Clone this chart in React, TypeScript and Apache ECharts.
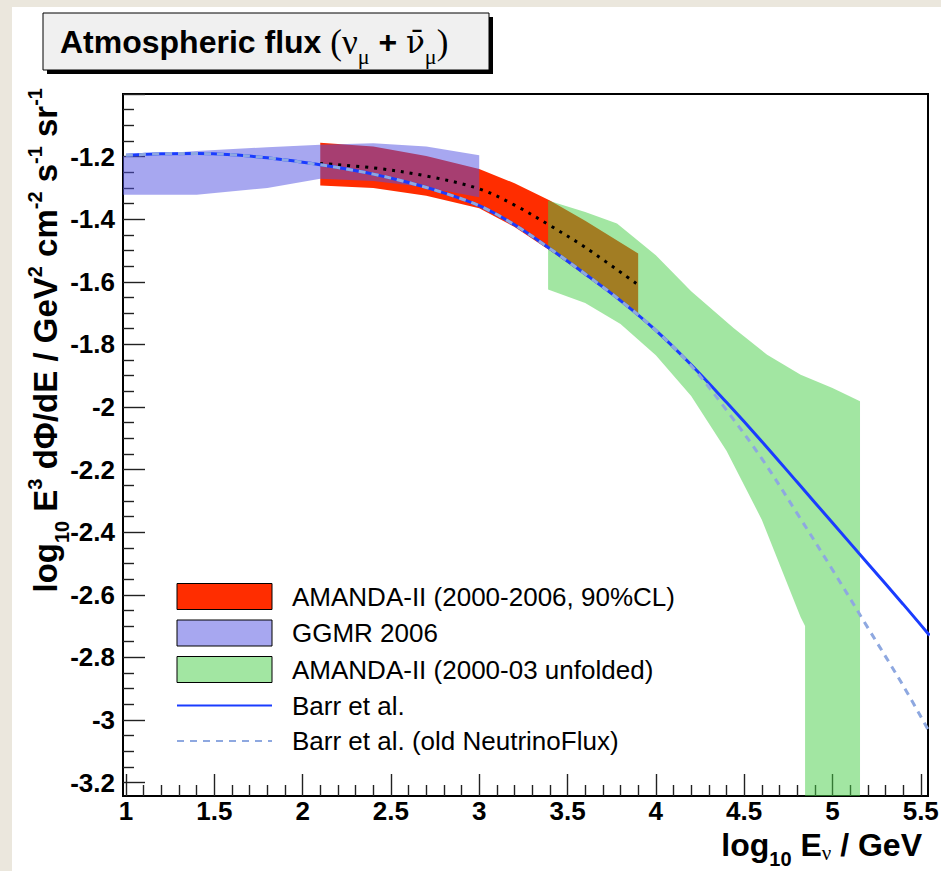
import React, { useEffect, useRef } from 'react';
import * as echarts from 'echarts';

const FONT = '"Liberation Sans", Arial, Helvetica, sans-serif';
const SERIF = '"Liberation Serif", "DejaVu Serif", serif';

const W = 941;
const H = 871;

// axis ranges (frame) and tick layout
const X_RANGE = [0.983, 5.541];
const Y_RANGE = [-3.243, -1.0];
const X_TICKS = { min: 1, max: 5.5, step: 0.5, minor: 5 };
const Y_TICKS = { min: -3.2, max: -1.0, step: 0.2, minor: 4 };

// Barr et al. (solid)
const barrX = [1.0, 1.2, 1.4, 1.6, 1.8, 2.0, 2.2, 2.4, 2.6, 2.8, 3.0, 3.2, 3.4, 3.6, 3.8, 4.0, 4.2, 4.4, 4.6, 4.8, 5.0, 5.2, 5.4, 5.55];
const barrY = [-1.196, -1.191, -1.19, -1.194, -1.204, -1.218, -1.235, -1.256, -1.283, -1.316, -1.357, -1.418, -1.494, -1.575, -1.66, -1.755, -1.865, -1.985, -2.11, -2.24, -2.37, -2.5, -2.63, -2.73];

// Barr et al. (old NeutrinoFlux, dashed)
const oldX = [1.0, 1.2, 1.4, 1.6, 1.8, 2.0, 2.2, 2.4, 2.6, 2.8, 3.0, 3.2, 3.4, 3.6, 3.8, 4.0, 4.2, 4.4, 4.6, 4.8, 5.0, 5.2, 5.4, 5.55];
const oldY = [-1.196, -1.191, -1.19, -1.194, -1.204, -1.218, -1.235, -1.256, -1.283, -1.316, -1.357, -1.418, -1.494, -1.575, -1.66, -1.755, -1.868, -2.01, -2.165, -2.34, -2.52, -2.705, -2.89, -3.04];

// AMANDA-II (2000-2006, 90%CL) band
const redX = [2.1, 2.4, 2.7, 3.0, 3.2, 3.4, 3.6, 3.9];
const redHi = [-1.156, -1.168, -1.198, -1.24, -1.285, -1.34, -1.405, -1.51];
const redLo = [-1.292, -1.3, -1.325, -1.365, -1.425, -1.5, -1.58, -1.705];

// AMANDA-II best fit (dotted)
const fitX = [2.1, 2.4, 2.7, 3.0, 3.2, 3.4, 3.6, 3.9];
const fitY = [-1.222, -1.236, -1.262, -1.303, -1.355, -1.42, -1.49, -1.61];

// GGMR 2006 band
const ggX = [0.98, 1.4, 1.8, 2.1, 2.4, 2.7, 3.0];
const ggHi = [-1.199, -1.182, -1.17, -1.162, -1.157, -1.168, -1.196];
const ggLo = [-1.322, -1.322, -1.3, -1.271, -1.278, -1.298, -1.33];

// AMANDA-II (2000-03 unfolded) band
const grHiX = [3.39, 3.6, 3.78, 4.0, 4.2, 4.44, 4.63, 4.82, 5.0, 5.156];
const grHi = [-1.34, -1.377, -1.414, -1.515, -1.63, -1.748, -1.833, -1.897, -1.939, -1.982];
const grLoX = [3.39, 3.6, 3.8, 4.0, 4.2, 4.4, 4.6, 4.82, 4.845, 4.845, 5.156];
const grLo = [-1.625, -1.668, -1.735, -1.835, -1.965, -2.14, -2.36, -2.672, -2.7, -3.3, -3.3];

const NAMES = {
  red: 'AMANDA-II (2000-2006, 90%CL)',
  gg: 'GGMR 2006',
  gr: 'AMANDA-II (2000-03 unfolded)',
  barr: 'Barr et al.',
  old: 'Barr et al. (old NeutrinoFlux)',
  fit: 'AMANDA-II best fit',
};

const COLORS = {
  red: '#ff2d00',
  gg: 'rgba(80,80,225,0.5)',
  gr: 'rgba(70,205,70,0.5)',
  barr: '#1a3cff',
  old: '#8ea8e0',
  fit: '#000000',
};

const FRAME = { left: 123, top: 94, right: 13, bottom: 75 };

function band(name: string, xsHi: number[], hi: number[], xsLo: number[], lo: number[], color: string, z: number) {
  return {
    type: 'custom',
    name,
    xAxisIndex: 0,
    yAxisIndex: 0,
    z,
    silent: true,
    clip: true,
    itemStyle: { color },
    data: [[xsHi[0], hi[0]]],
    renderItem: (params: any, api: any) => {
      const cs = params.coordSys;
      const pt = (x: number, y: number) => {
        const p = api.coord([x, y]);
        return [
          Math.min(Math.max(p[0], cs.x), cs.x + cs.width),
          Math.min(Math.max(p[1], cs.y), cs.y + cs.height),
        ];
      };
      const pts: number[][] = [];
      for (let i = 0; i < xsHi.length; i++) pts.push(pt(xsHi[i], hi[i]));
      for (let i = xsLo.length - 1; i >= 0; i--) pts.push(pt(xsLo[i], lo[i]));
      return { type: 'polygon', shape: { points: pts }, style: { fill: color } };
    },
  };
}

function line(name: string, xs: number[], ys: number[], color: string, width: number, type: any, z: number) {
  return {
    type: 'line',
    name,
    xAxisIndex: 0,
    yAxisIndex: 0,
    z,
    data: xs.map((x, i) => [x, ys[i]]),
    smooth: 0.35,
    symbol: 'none',
    silent: true,
    lineStyle: { color, width, type },
  };
}

export default function App() {
  const ref = useRef<HTMLDivElement>(null);

  useEffect(() => {
    document.body.style.margin = '0';
    const chart = echarts.init(ref.current!, null, { renderer: 'svg' });

    const fw = W - FRAME.left - FRAME.right;
    const fh = H - FRAME.top - FRAME.bottom;
    const px = (x: number) => FRAME.left + ((x - X_RANGE[0]) / (X_RANGE[1] - X_RANGE[0])) * fw;
    const py = (y: number) => FRAME.top + ((Y_RANGE[1] - y) / (Y_RANGE[1] - Y_RANGE[0])) * fh;

    const gridB = {
      left: px(X_TICKS.min),
      right: W - px(X_TICKS.max),
      top: py(Y_TICKS.max),
      bottom: H - py(Y_TICKS.min),
    };

    const tickLine = { color: '#222', width: 1.4 };
    const tickLabel = { fontFamily: FONT, fontWeight: 'bold', fontSize: 26, color: '#000' };

    const main = { fontFamily: FONT, fontWeight: 'bold', fontSize: 33, color: '#000' };
    const sub = { fontFamily: FONT, fontWeight: 'bold', fontSize: 20, color: '#000', padding: [34, 0, 0, 0] };
    const sup = { fontFamily: FONT, fontWeight: 'bold', fontSize: 20, color: '#000', padding: [0, 0, 20, 0] };

    const xMain = { fontFamily: FONT, fontWeight: 'bold', fontSize: 32, color: '#000' };
    const xSub = { fontFamily: FONT, fontWeight: 'bold', fontSize: 20, color: '#000', padding: [28, 0, 0, 0] };
    const nuSub = { fontFamily: SERIF, fontSize: 21, color: '#000', padding: [16, 0, 0, 0] };

    const lineLegendStyle = { color: 'rgba(0,0,0,0)', borderWidth: 0, opacity: 0 };

    const option: any = {
      animation: false,
      backgroundColor: 'transparent',
      grid: [
        {
          left: FRAME.left, right: FRAME.right, top: FRAME.top, bottom: FRAME.bottom,
          show: true, borderColor: '#000', borderWidth: 2, backgroundColor: 'transparent',
          containLabel: false, outerBoundsMode: 'none',
        },
        {
          left: gridB.left, right: gridB.right, top: gridB.top, bottom: gridB.bottom,
          show: false, containLabel: false, outerBoundsMode: 'none',
        },
      ],
      xAxis: [
        {
          type: 'value', gridIndex: 0, min: X_RANGE[0], max: X_RANGE[1],
          axisLine: { show: false }, axisTick: { show: false }, axisLabel: { show: false }, splitLine: { show: false },
        },
        {
          type: 'value', gridIndex: 1, min: X_TICKS.min, max: X_TICKS.max, interval: X_TICKS.step,
          position: 'bottom', offset: H - FRAME.bottom - py(Y_TICKS.min),
          axisLine: { show: false },
          axisTick: { show: true, inside: true, length: 22, lineStyle: tickLine },
          minorTick: { show: true, splitNumber: X_TICKS.minor, length: 11, lineStyle: tickLine },
          axisLabel: { ...tickLabel, margin: 2 },
          splitLine: { show: false }, minorSplitLine: { show: false },
        },
      ],
      yAxis: [
        {
          type: 'value', gridIndex: 0, min: Y_RANGE[0], max: Y_RANGE[1],
          axisLine: { show: false }, axisTick: { show: false }, axisLabel: { show: false }, splitLine: { show: false },
        },
        {
          type: 'value', gridIndex: 1, min: Y_TICKS.min, max: Y_TICKS.max, interval: Y_TICKS.step,
          position: 'left', offset: px(X_TICKS.min) - FRAME.left,
          axisLine: { show: false },
          axisTick: { show: true, inside: true, length: 22, lineStyle: tickLine },
          minorTick: { show: true, splitNumber: Y_TICKS.minor, length: 11, lineStyle: tickLine },
          axisLabel: { ...tickLabel, margin: 8, showMaxLabel: false },
          splitLine: { show: false }, minorSplitLine: { show: false },
        },
      ],
      legend: {
        left: 171, top: 578, orient: 'vertical',
        itemWidth: 95, itemHeight: 26, itemGap: 9.5,
        selectedMode: false,
        textStyle: { fontFamily: FONT, fontSize: 26, color: '#000', padding: [0, 0, 0, 15] },
        data: [
          { name: NAMES.red, icon: 'rect', itemStyle: { color: COLORS.red, borderColor: '#000', borderWidth: 1 } },
          { name: NAMES.gg, icon: 'rect', itemStyle: { color: COLORS.gg, borderColor: '#000', borderWidth: 1 } },
          { name: NAMES.gr, icon: 'rect', itemStyle: { color: COLORS.gr, borderColor: '#000', borderWidth: 1 } },
          { name: NAMES.barr, itemStyle: lineLegendStyle },
          { name: NAMES.old, itemStyle: lineLegendStyle },
        ],
      },
      series: [
        band(NAMES.red, redX, redHi, redX, redLo, COLORS.red, 1),
        band(NAMES.gg, ggX, ggHi, ggX, ggLo, COLORS.gg, 2),
        band(NAMES.gr, grHiX, grHi, grLoX, grLo, COLORS.gr, 3),
        line(NAMES.fit, fitX, fitY, COLORS.fit, 3, [3, 6], 4),
        line(NAMES.barr, barrX, barrY, COLORS.barr, 3, 'solid', 5),
        line(NAMES.old, oldX, oldY, COLORS.old, 3, [7, 6], 6),
      ],
      graphic: [
        { type: 'rect', z: 100, shape: { x: 47, y: 17, width: 446, height: 57 }, style: { fill: '#000' } },
        { type: 'rect', z: 101, shape: { x: 43, y: 13, width: 446, height: 57 }, style: { fill: '#f0f0f0', stroke: '#000', lineWidth: 1 } },
        {
          type: 'text', z: 102, x: 60, y: 42,
          style: {
            text: '{b|Atmospheric flux }{s|(ν}{ss|μ}{b| + }{nb|ν\u0304}{ss|μ}{s|)}',
            align: 'left', verticalAlign: 'middle',
            rich: {
              b: { fontFamily: FONT, fontWeight: 'bold', fontSize: 32, color: '#000' },
              s: { fontFamily: SERIF, fontSize: 35, color: '#000' },
              nb: { fontFamily: '"DejaVu Serif", serif', fontSize: 31, color: '#000' },
              ss: { fontFamily: SERIF, fontSize: 22, color: '#000', padding: [28, 0, 0, 0] },
            },
          },
        },
        {
          type: 'text', z: 102, x: 922, y: 845,
          style: {
            text: '{b|log}{sub|10}{b| E}{nu|ν}{b| / GeV}',
            align: 'right', verticalAlign: 'middle',
            rich: { b: xMain, sub: xSub, nu: nuSub },
          },
        },
        {
          type: 'text', z: 102, x: 45, y: 88, rotation: Math.PI / 2,
          style: {
            text: '{b|log}{sub|10}{b| E}{sup|3}{b| dΦ/dE / GeV}{sup|2}{b| cm}{sup|-2}{b| s}{sup|-1}{b| sr}{sup|-1}',
            align: 'right', verticalAlign: 'middle',
            rich: { b: main, sub, sup },
          },
        },
      ],
    };

    chart.setOption(option);
    return () => chart.dispose();
  }, []);

  return (
    <div style={{ position: 'fixed', left: 0, top: 0, width: W, height: H, background: '#ebe7dd', overflow: 'hidden' }}>
      <div style={{ position: 'absolute', left: 12, top: 7, right: 0, bottom: 0, background: '#ffffff' }} />
      <div ref={ref} style={{ position: 'absolute', left: 0, top: 0, width: W, height: H }} />
    </div>
  );
}
